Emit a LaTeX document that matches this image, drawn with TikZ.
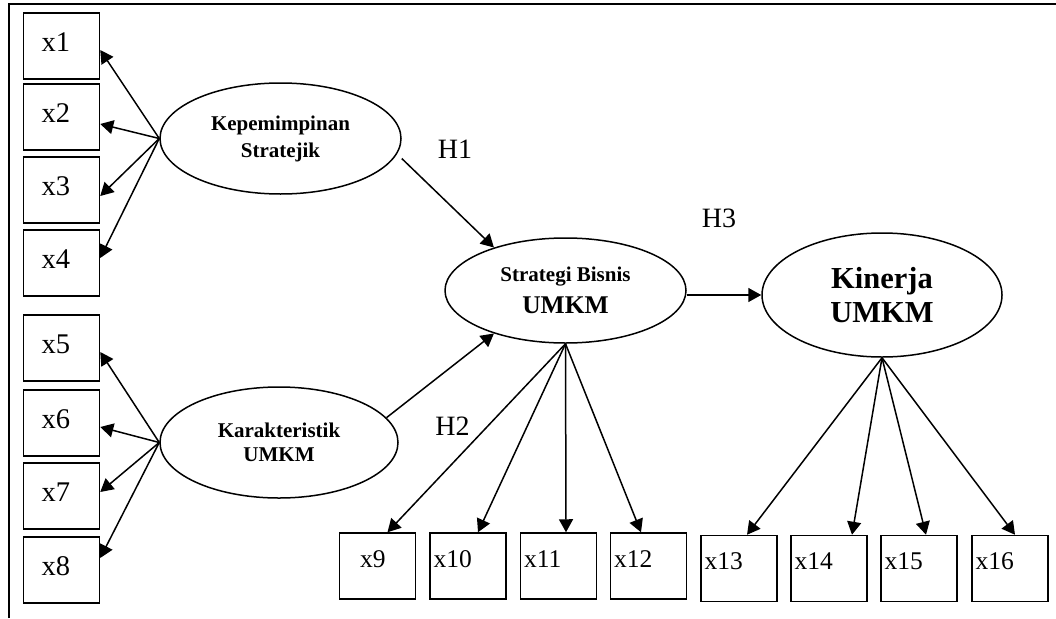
\documentclass[tikz,border=0pt]{standalone}
\usepackage{fontspec}
\setmainfont{Liberation Serif}
\usetikzlibrary{arrows.meta,shapes.geometric,calc}

\begin{document}
\begin{tikzpicture}[x=1pt,y=-1pt,
  every node/.style={inner sep=0pt},
  ind/.style={draw, line width=1.5pt, rectangle, minimum width=76pt,
    minimum height=66pt, text width=76pt, align=left},
  lbox/.style={ind, font=\fontsize{28.5}{30}\selectfont,
    text height=18pt, text depth=7pt, execute at begin node=\hspace*{18pt}},
  bbox/.style={ind, font=\fontsize{25.5}{28}\selectfont,
    text height=12pt, text depth=10pt, execute at begin node=\hspace*{3.5pt}},
  latent/.style={draw, ellipse, line width=1.5pt, align=center,
    font=\bfseries\fontsize{21}{27}\selectfont},
  arr/.style={line width=1.5pt, -{Triangle[length=13pt,width=14pt]}},
  hyp/.style={anchor=base, font=\fontsize{28}{30}\selectfont}
]
\useasboundingbox (0,0) rectangle (1056,618);

% frame
\draw[line width=1.8pt] (9,618) -- (9,4) -- (1056,4);

% indicators of the two exogenous constructs
\node[lbox] (x1) at (61.5,46)  {x1};
\node[lbox] (x2) at (61.5,117) {x2};
\node[lbox] (x3) at (61.5,190) {x3};
\node[lbox] (x4) at (61.5,263) {x4};
\node[lbox] (x5) at (61.5,348) {x5};
\node[lbox] (x6) at (61.5,423) {x6};
\node[lbox] (x7) at (61.5,496) {x7};
\node[lbox] (x8) at (61.5,570) {x8};

% indicators of the endogenous constructs
\node[bbox] (x9)  at (377.5,566) {\hspace*{17pt}x9};
\node[bbox] (x10) at (468,566)   {x10};
\node[bbox] (x11) at (558.5,566) {x11};
\node[bbox] (x12) at (648.5,566) {x12};
\node[bbox] (x13) at (739,568.5) {x13};
\node[bbox] (x14) at (829,568.5) {x14};
\node[bbox] (x15) at (919,568.5) {x15};
\node[bbox] (x16) at (1010,568.5) {x16};

% latent constructs
\node[latent, minimum width=241pt, minimum height=111pt] (kep) at (280.5,138.5)
  {Kepemimpinan\\Stratejik};
\node[latent, minimum width=238pt, minimum height=111pt,
  font=\bfseries\fontsize{21}{24}\selectfont] (kar) at (279,442.5)
  {Karakteristik\\UMKM};
\node[latent, minimum width=241pt, minimum height=105pt] (sb) at (565.5,290.5)
  {Strategi Bisnis\\[5pt]{\fontsize{25.5}{28}\selectfont UMKM}};
\node[latent, minimum width=240pt, minimum height=124pt,
  font=\bfseries\fontsize{30.5}{34}\selectfont] (kin) at (882,295)
  {Kinerja\\UMKM};

% loadings
\foreach \t/\d in {x1/4, x2/7, x3/6, x4/-5}
  \draw[arr] (kep.west) -- ($(\t.east)+(0,\d)$);
\foreach \t/\d in {x5/4, x6/4, x7/-4, x8/-12}
  \draw[arr] (kar.west) -- ($(\t.east)+(0,\d)$);
\foreach \t/\d in {x9/10, x10/10, x11/7.5, x12/-7.5}
  \draw[arr] (sb.south) -- ($(\t.north)+(\d,0)$);
\foreach \t/\d in {x13/8, x14/23, x15/7, x16/5}
  \draw[arr] (kin.south) -- ($(\t.north)+(\d,0)$);

% structural paths
\draw[arr] ($(kep.east)+(0,20)$) -- (sb.149);
\draw[arr] (kar.13) -- (sb.-149);
\draw[arr] (sb.east |- kin.west) -- (kin.west);

% hypothesis labels
\node[hyp] (h1) at (455,158) {H1};
\node[hyp] (h2) at (452.5,435) {H2};
\node[hyp] (h3) at (719,227) {H3};
\end{tikzpicture}
\end{document}
